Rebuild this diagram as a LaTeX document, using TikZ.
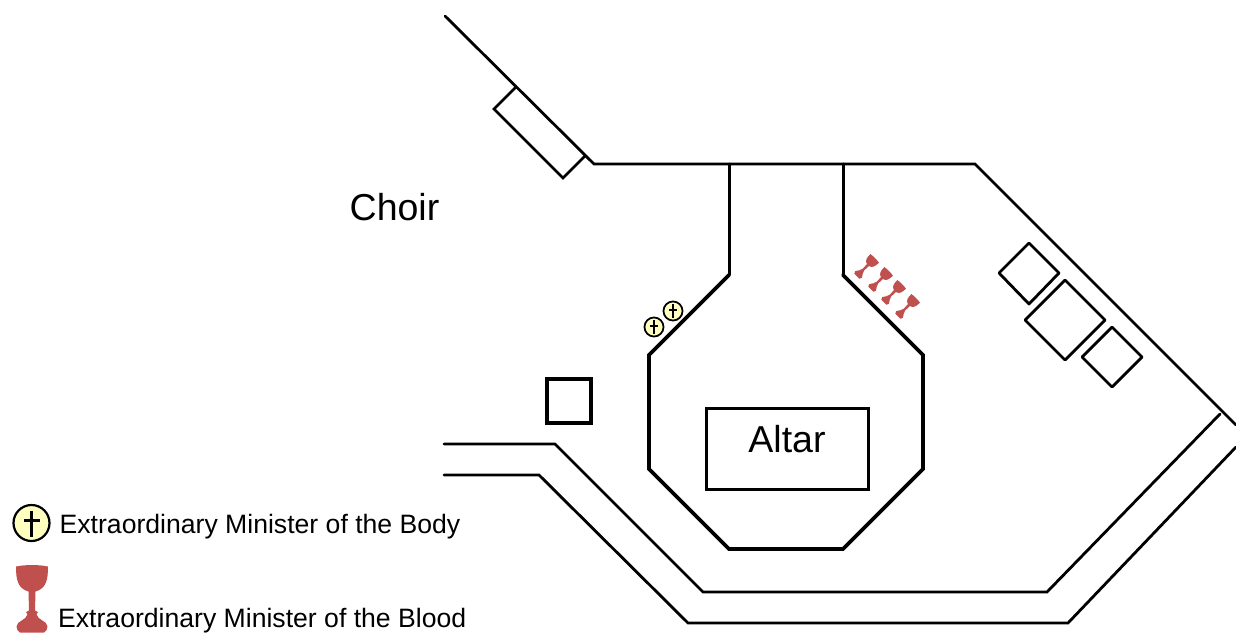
\documentclass[tikz,border=0pt]{standalone}
\usepackage{fontspec}
\setmainfont{Liberation Sans}
\definecolor{chal}{HTML}{C0504D}
\definecolor{crossfill}{HTML}{FFFFC0}
\tikzset{
  wall/.style={draw=black,line width=2.8pt,line cap=round,line join=miter},
  thick wall/.style={draw=black,line width=3.8pt,line cap=round,line join=miter},
  big label/.style={inner sep=0pt,font=\fontsize{37.5}{37}\selectfont},
  legend label/.style={inner sep=0pt,anchor=west,font=\fontsize{26.6}{27}\selectfont},
  pics/chalice/.style={code={
    \fill[chal] (-16,-32) .. controls (-6,-34) and (6,-34) .. (16,-32)
      .. controls (16,-18) and (14,-10) .. (3.5,-7)
      -- (3,12) -- (6,13.5) -- (4.5,16)
      .. controls (6,22) and ({#1*15},22) .. ({#1*15.5},28)
      .. controls ({#1*15.5},31) and ({#1*14},33) .. ({#1*12},34) -- ({-#1*12},34)
      .. controls ({-#1*14},33) and ({-#1*15.5},31) .. ({-#1*15.5},28)
      .. controls ({-#1*15},22) and (-6,22) .. (-4.5,16)
      -- (-6,13.5) -- (-3,12) -- (-3.5,-7)
      .. controls (-14,-10) and (-16,-18) .. (-16,-32) -- cycle;
  }},
  pics/minister/.style={code={
    \draw[black,fill=crossfill,line width=#1*2.2pt] (0,0) circle[radius=18];
    \draw[black,line width=#1*2.2pt] (0,-12.5) -- (0,13.5) (-8,-2.5) -- (8,-2.5);
  }},
}
\begin{document}
\begin{tikzpicture}[x=1pt,y=-1pt]
\useasboundingbox (0,0) rectangle (1236,632);
% outer wall
\draw[wall] (445,16) -- (594,164) -- (975,164) -- (1236,425);
% choir box
\draw[wall] (516,87) -- (494,109) -- (563,178) -- (585,156);
% sanctuary
\draw[wall,line width=3pt] (729,164) -- (729,275);
\draw[wall,line width=3pt] (843,164) -- (843,275);
\draw[thick wall] (729,275) -- (649,355) -- (649,469) -- (729,549) -- (843,549) -- (923,469) -- (923,355) -- (843,275);
% corridor
\draw[wall] (444,444) -- (555,444) -- (703,592) -- (1047,592) -- (1220,414);
\draw[wall] (444,475) -- (539,475) -- (688,623) -- (1068,623) -- (1236,447);
% seats
\draw[wall,line join=round] (1029,243) -- (1059,273) -- (1029,304) -- (999,273) -- cycle;
\draw[wall,line join=round] (1065,280) -- (1105,320) -- (1065,360) -- (1025,320) -- cycle;
\draw[wall,line join=round] (1112,327) -- (1142,357) -- (1112,387) -- (1082,357) -- cycle;
\draw[wall,line width=3.3pt] (547,379) rectangle (591,423);
% altar
\draw[wall,line width=3pt] (706,408) rectangle (868,489);
\node[big label] (altar) at (787,439) {Altar};
\node[big label] (choir) at (394.5,207) {Choir};
% ministers of the body
\pic[scale=1] at (31.5,523) {minister=1};
\pic[scale=0.53] at (673,311) {minister=0.8};
\pic[scale=0.53] at (654,327) {minister=0.8};
% ministers of the blood
\pic at (32,598.5) {chalice=1};
\pic[scale=0.38,rotate=-45] at (866,267) {chalice=0.8};
\pic[scale=0.38,rotate=-45] at (880,280) {chalice=0.8};
\pic[scale=0.38,rotate=-45] at (893,293) {chalice=0.8};
\pic[scale=0.38,rotate=-45] at (907,307) {chalice=0.8};
% legend
\node[legend label] (body) at (59.5,527) {Extraordinary Minister of the Body};
\node[legend label] (blood) at (58,621) {Extraordinary Minister of the Blood};
\end{tikzpicture}
\end{document}
